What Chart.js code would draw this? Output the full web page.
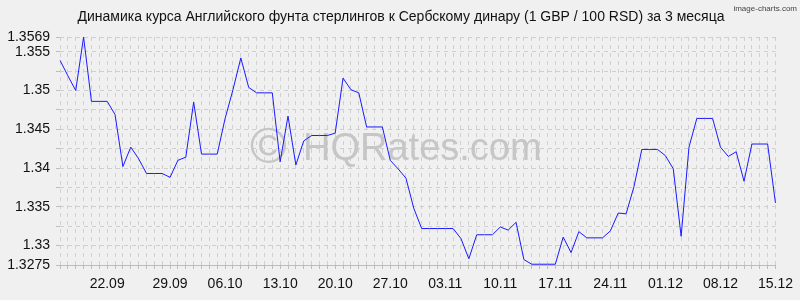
<!DOCTYPE html>
<html>
<head>
<meta charset="utf-8">
<script src="https://cdn.jsdelivr.net/npm/chart.js@4"></script>
<style>
    html, body { margin: 0; padding: 0; background: #f0f0f0; }
    canvas { display: block; }
</style>
</head>
<body>
<canvas id="rateChart" width="800" height="300"></canvas>
<script>
// Dates 15.09 - 15.12
const dates = [
    '15.09','16.09','17.09','18.09','19.09','20.09','21.09','22.09','23.09','24.09','25.09','26.09','27.09','28.09','29.09','30.09',
    '01.10','02.10','03.10','04.10','05.10','06.10','07.10','08.10','09.10','10.10','11.10','12.10','13.10','14.10','15.10','16.10',
    '17.10','18.10','19.10','20.10','21.10','22.10','23.10','24.10','25.10','26.10','27.10','28.10','29.10','30.10','31.10',
    '01.11','02.11','03.11','04.11','05.11','06.11','07.11','08.11','09.11','10.11','11.11','12.11','13.11','14.11','15.11',
    '16.11','17.11','18.11','19.11','20.11','21.11','22.11','23.11','24.11','25.11','26.11','27.11','28.11','29.11','30.11',
    '01.12','02.12','03.12','04.12','05.12','06.12','07.12','08.12','09.12','10.12','11.12','12.12','13.12','14.12','15.12'
];

// GBP/RSD (1 GBP / 100 RSD)
const rates = [
    1.3539, 1.3519, 1.3500, 1.3569, 1.3486, 1.3486, 1.3486, 1.3469, 1.3402, 1.3427,
    1.3412, 1.3393, 1.3393, 1.3393, 1.3388, 1.3410, 1.3414, 1.3485, 1.3418, 1.3418,
    1.3418, 1.3464, 1.3501, 1.3542, 1.3504, 1.3497, 1.3497, 1.3497, 1.3408, 1.3467,
    1.3404, 1.3435, 1.3442, 1.3442, 1.3442, 1.3445, 1.3516, 1.3501, 1.3497, 1.3453,
    1.3453, 1.3453, 1.3410, 1.3399, 1.3387, 1.3348, 1.3322, 1.3322, 1.3322, 1.3322,
    1.3322, 1.3309, 1.3283, 1.3314, 1.3314, 1.3314, 1.3324, 1.3320, 1.3330, 1.3282,
    1.3276, 1.3276, 1.3276, 1.3276, 1.3311, 1.3291, 1.3318, 1.3310, 1.3310, 1.3310,
    1.3319, 1.3342, 1.3341, 1.3376, 1.3424, 1.3424, 1.3424, 1.3416, 1.3399, 1.3312,
    1.3427, 1.3464, 1.3464, 1.3464, 1.3427, 1.3415, 1.3421, 1.3383, 1.3431, 1.3431,
    1.3431, 1.3355
];

// x axis labels and where they sit
const xTickLabels = ['22.09','29.09','06.10','13.10','20.10','27.10','03.11','10.11','17.11','24.11','01.12','08.12','15.12'];
const xTickIndex = [6, 14, 21, 28, 35, 42, 49, 56, 63, 70, 77, 84, 91];

// y axis
const yMin = 1.3275;
const yMax = 1.3569;
const yGridValues = [1.3275, 1.33, 1.3325, 1.335, 1.3375, 1.34, 1.3425, 1.345, 1.3475, 1.35, 1.3525, 1.355, 1.3569];
const yTickLabels = [1.3275, 1.33, 1.335, 1.34, 1.345, 1.35, 1.355, 1.3569];

const chartTitle = 'Динамика курса Английского фунта стерлингов к Сербскому динару (1 GBP / 100 RSD) за 3 месяца';
const FONT = '"Liberation Sans", Arial, sans-serif';

const decorPlugin = {
    id: 'decor',
    beforeDatasetsDraw(chart) {
        const ctx = chart.ctx;
        ctx.save();
        ctx.fillStyle = '#c6c6c6';
        ctx.textBaseline = 'middle';
        ctx.textAlign = 'left';
        ctx.font = '50px ' + FONT;
        ctx.fillText('©', 250, 149);
        ctx.textBaseline = 'alphabetic';
        ctx.font = '38px ' + FONT;
        ctx.fillText('HQRates.com', 303, 160);
        ctx.restore();
    },
    afterDraw(chart) {
        const ctx = chart.ctx;
        ctx.save();
        ctx.fillStyle = '#111';
        ctx.textAlign = 'center';
        ctx.textBaseline = 'middle';
        ctx.font = '14px ' + FONT;
        ctx.fillText(chartTitle, 401, 17);
        ctx.fillStyle = '#444';
        ctx.textAlign = 'right';
        ctx.font = '8px ' + FONT;
        ctx.fillText('image-charts.com', 797, 9);
        ctx.restore();
    }
};

const ctxRate = document.getElementById('rateChart').getContext('2d');
const rateChart = new Chart(ctxRate, {
    type: 'line',
    data: {
        labels: dates,
        datasets: [{
            data: rates,
            borderColor: '#1a1aff',
            borderWidth: 1,
            pointRadius: 0,
            tension: 0,
            fill: false
        }]
    },
    options: {
        responsive: false,
        animation: false,
        layout: {
            padding: { top: 37, right: 20, bottom: 0, left: 0 }
        },
        scales: {
            x: {
                afterFit: function(scale) { scale.height = 35; },
                grid: {
                    color: '#cfcfcf',
                    tickLength: 4,
                    tickColor: '#bdbdbd'
                },
                border: { display: true, color: '#bdbdbd', dash: [4, 4] },
                ticks: {
                    autoSkip: false,
                    maxRotation: 0,
                    minRotation: 0,
                    padding: 7,
                    color: '#111',
                    font: { family: FONT, size: 14 },
                    callback: function(value, index) {
                        const k = xTickIndex.indexOf(index);
                        return k >= 0 ? xTickLabels[k] : '';
                    }
                }
            },
            y: {
                min: yMin,
                max: yMax,
                afterFit: function(scale) { scale.width = 60; },
                afterBuildTicks: function(scale) {
                    scale.ticks = yGridValues.map(v => ({ value: v }));
                },
                grid: {
                    color: '#cfcfcf',
                    tickLength: 4,
                    tickColor: '#bdbdbd'
                },
                border: { display: false, dash: [4, 4] },
                ticks: {
                    autoSkip: false,
                    padding: 6,
                    color: '#111',
                    font: { family: FONT, size: 14 },
                    callback: function(value) {
                        const hit = yTickLabels.find(t => Math.abs(t - value) < 1e-7);
                        return hit !== undefined ? String(hit) : '';
                    }
                }
            }
        },
        plugins: {
            legend: { display: false },
            tooltip: { enabled: false },
            title: { display: false }
        }
    },
    plugins: [decorPlugin]
});
</script>
</body>
</html>
